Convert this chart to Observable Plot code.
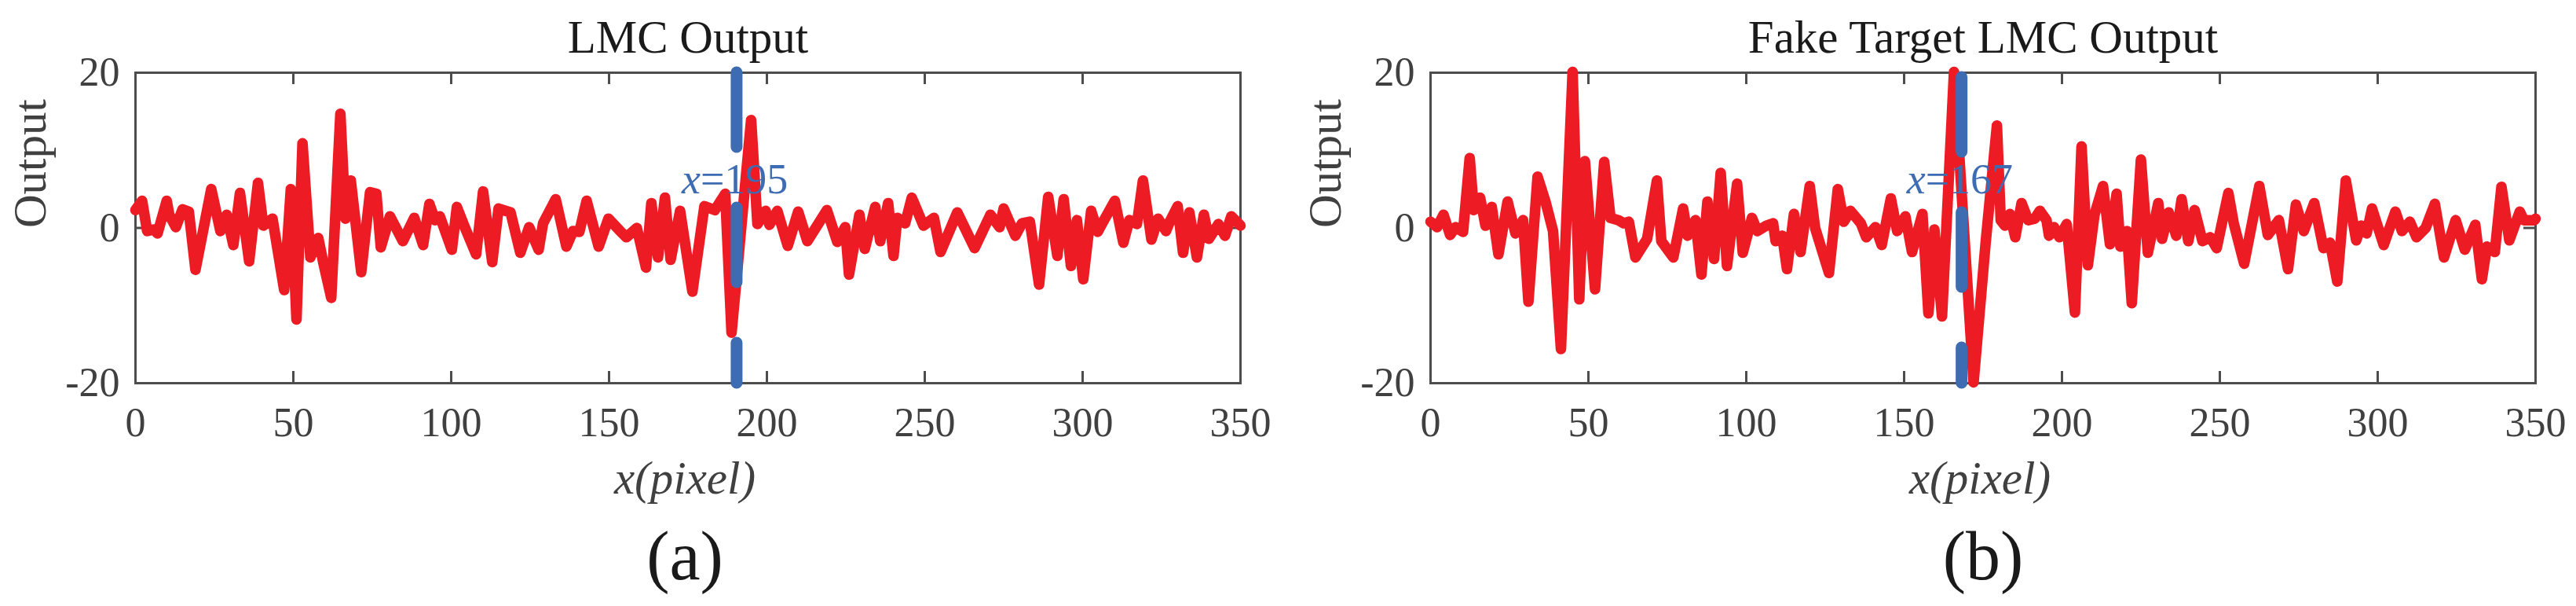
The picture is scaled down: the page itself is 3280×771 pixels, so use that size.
<!DOCTYPE html>
<html><head><meta charset="utf-8">
<script src="https://cdn.jsdelivr.net/npm/d3@7"></script>
<script src="https://cdn.jsdelivr.net/npm/@observablehq/plot@0.6"></script>
<style>
html,body{margin:0;padding:0;background:#fff;}
#wrap{display:flex;width:3280px;height:771px;overflow:hidden;}
#wrap svg{display:block;overflow:visible;}
</style></head><body><div id="wrap"></div>
<script>
// ---- data ----
const xTicks = [0, 50, 100, 150, 200, 250, 300, 350];
const yTicks = [-20, 0, 20];

// (a) LMC Output
const lmcX = [0,2.1,3.7,5.8,7.0,9.9,10.7,12.8,14.9,16.9,19.0,24.0,26.9,28.9,31.0,33.1,36.0,38.8,40.5,43.4,47.1,49.2,51.0,52.9,55.4,57.9,59.5,62.0,64.9,66.5,68.2,71.5,74.3,76.3,77.7,80.6,84.7,88.3,91.1,93.1,94.9,96.4,100.2,101.8,103.9,107.9,110.1,113.0,115.0,118.8,121.9,124.7,127.7,129.1,133.1,136.5,138.6,140.6,142.9,146.7,149.8,153.5,155.5,158.8,161.7,163.4,165.5,167.7,169.5,172.5,176.4,180.2,183.5,186.8,188.8,195.0,197.0,199.6,200.8,203.3,206.6,209.9,212.8,219.0,222.3,224.8,226.0,229.3,231.0,234.3,235.9,238.4,240.1,241.3,243.8,245.9,249.6,252.9,255.0,260.3,265.8,270.8,273.7,275.0,278.7,280.8,283.3,286.2,289.1,292.0,294.0,296.3,298.2,300.2,302.7,304.8,306.5,310.2,312.9,314.8,317.2,319.1,321.8,323.9,326.4,327.6,330.1,331.8,333.8,336.2,338.4,340.0,343.0,345.1,347.1,348.8,350];
const lmcY = [2.3,3.5,-0.4,-0.2,-0.7,3.5,1.7,0.1,2.4,2.1,-5.4,5.0,-0.4,1.7,-2.2,4.5,-4.3,5.8,0.3,1.2,-8.0,5.0,-11.8,10.9,-3.8,-1.3,-4.5,-9.0,14.7,1.2,6.1,-5.7,4.6,4.4,-2.5,1.5,-1.7,1.3,-2.2,3.1,1.0,1.5,-2.8,2.7,0.5,-3.4,4.7,-4.4,2.5,2.0,-3.2,0.1,-2.8,0.6,3.7,-2.4,-0.4,-0.5,3.5,-2.4,1.2,-0.4,-1.2,0.0,-5.1,3.2,-3.8,3.9,-4.1,2.2,-8.2,2.8,2.3,4.4,-13.5,13.9,0.5,2.2,0.4,2.2,-2.3,2.1,-1.7,2.3,-1.8,0.1,-6.0,1.7,-2.7,2.7,-1.7,3.2,-3.6,1.3,0.6,3.9,0.3,1.3,-3.1,2.0,-2.6,1.7,0.1,2.5,-1.0,0.6,0.8,-7.3,4.0,-3.6,3.7,-4.9,1.0,-6.6,2.2,-0.5,0.8,3.5,-1.9,1.0,0.5,6.1,-1.5,1.2,-0.4,0.8,2.8,-3.2,2.0,-3.8,1.7,-1.4,0.5,-1.0,1.5,0.8,0.3];

// (b) Fake Target LMC Output
const fakeX = [0,2.1,4.1,6.2,7.9,10.3,12.4,13.7,15.7,17.4,19.4,21.5,24.4,26.9,29.3,31.0,33.9,36.4,38.8,41.3,45.0,47.1,48.9,52.1,55.0,57.0,59.5,61.2,62.8,64.9,68.6,71.7,73.1,76.9,80.0,81.4,83.9,85.8,87.7,89.8,91.9,93.9,97.1,98.9,101.8,103.5,106.4,108.5,109.3,111.4,112.9,115.1,117.2,120.1,121.8,126.2,129.0,130.9,133.0,136.3,138.0,140.9,142.9,145.8,147.8,150.4,152.5,155.8,157.7,159.6,162.0,165.8,172.0,175.8,179.4,180.6,181.9,183.5,185.2,187.2,189.3,191.4,193.0,195.1,195.9,197.5,199.2,201.5,204.1,206.2,208.2,210.3,213.0,215.2,217.3,218.5,220.6,222.1,225.0,227.2,230.5,231.7,233.8,236.2,237.9,240.0,242.0,244.5,247.0,249.0,252.7,254.4,257.7,262.5,265.2,268.7,271.6,274.1,276.6,279.9,282.8,284.9,287.2,289.9,293.2,294.8,296.5,298.2,301.9,305.6,307.7,310.2,312.3,315.2,318.1,321.0,324.7,327.6,330.9,333.0,334.6,337.1,339.2,341.7,345.0,346.3,349.6,350];
const fakeY = [0.8,0.1,1.7,-0.9,0.1,-0.5,9.0,2.3,3.9,0.3,2.7,-3.4,3.4,-0.7,1.0,-9.5,6.6,3.4,-0.4,-15.6,20.1,-9.2,8.6,-7.9,8.5,1.3,1.0,0.6,0.8,-3.8,-1.4,6.1,-1.7,-3.8,2.5,-1.0,1.0,-6.0,3.4,-4.0,7.1,-4.9,5.7,-3.2,1.3,-0.4,0.3,0.6,-1.7,-1.0,-5.3,1.8,-3.1,5.4,0.0,-5.8,5.0,0.8,2.2,0.6,-1.2,0.1,-2.2,3.8,-0.4,1.5,-3.1,1.8,-11.0,-0.2,-11.4,20.1,-19.9,-2.0,13.2,1.0,0.3,1.8,-1.2,3.2,1.0,1.2,2.2,1.0,-1.0,0.1,-1.2,0.5,-10.9,10.5,-4.8,1.7,5.4,-2.1,4.4,-2.4,-0.4,-9.7,8.8,-3.2,3.2,-1.4,2.0,-1.0,3.7,-1.7,2.3,-1.7,-1.2,-2.6,4.5,0.6,-4.6,5.4,-0.9,1.0,-5.3,3.0,-0.4,3.2,-2.6,-1.9,-6.9,6.1,-1.6,0.3,-0.7,2.5,-2.2,2.1,-0.4,0.8,-1.2,0.0,3.1,-3.8,1.0,-2.8,0.4,-6.6,-2.4,-3.1,5.3,-1.6,2.1,1.0,1.0,1.2];

const titles = ["LMC Output", "Fake Target LMC Output"];
const tags = ["(a)", "(b)"];
const markerPos = [190.4, 168.2];      // where the dashed line is drawn
const markerText = ["195", "167"];     // what its label says
const xLabel = "x(pixel)";
const yLabel = "Output";

// ---- styling ----
const RED = "#ed1c24", BLUE = "#3d6cb2", AXIS = "#4d4d4d", LABEL = "#404040", DARK = "#1a1a1a";
const FONT = "'Liberation Serif', 'Times New Roman', serif";

const layout = [
  {width: 1640, marginLeft: 172, marginRight: 61, dashOffset: 0, tagDx: -4},
  {width: 1640, marginLeft: 181, marginRight: 52, dashOffset: -6, tagDx: 0}
];
const H = 771, MT = 92, MB = 284;

function panel(i, xs, ys) {
  const L = layout[i];
  const fw = L.width - L.marginLeft - L.marginRight;
  const fh = H - MT - MB;
  const data = xs.map((x, k) => ({x, y: ys[k]}));
  const mk = markerPos[i];
  return Plot.plot({
    width: L.width, height: H,
    marginLeft: L.marginLeft, marginRight: L.marginRight, marginTop: MT, marginBottom: MB,
    x: {domain: [0, 350], label: null},
    y: {domain: [-20, 20], label: null},
    style: {fontFamily: FONT, background: "white", overflow: "visible"},
    marks: [
      Plot.axisX(xTicks, {anchor: "bottom", tickSize: 0, tickPadding: 31, fontSize: 52, fill: LABEL, tickFormat: d => String(d), label: null}),
      Plot.axisY(yTicks, {anchor: "left", tickSize: 0, tickPadding: 20, fontSize: 52, fill: LABEL, tickFormat: d => String(d), label: null}),
      Plot.tickX(xTicks, {x: d => d, stroke: AXIS, strokeWidth: 3, insetTop: fh - 15}),
      Plot.tickX(xTicks, {x: d => d, stroke: AXIS, strokeWidth: 3, insetBottom: fh - 15}),
      Plot.tickY(yTicks, {y: d => d, stroke: AXIS, strokeWidth: 3, insetRight: fw - 15}),
      Plot.tickY(yTicks, {y: d => d, stroke: AXIS, strokeWidth: 3, insetLeft: fw - 15}),
      Plot.frame({stroke: AXIS, strokeWidth: 3}),
      Plot.line(data, {x: "x", y: "y", stroke: RED, strokeWidth: 13.5, strokeLinejoin: "round", strokeLinecap: "round"}),
      Plot.ruleX([mk], {x: d => d, y1: 20, y2: -20, stroke: BLUE, strokeWidth: 15, strokeDasharray: "95,77", strokeDashoffset: L.dashOffset, strokeLinecap: "round"}),
      Plot.text([mk], {x: d => d, y: 6.2, text: () => "x", fontStyle: "italic", textAnchor: "end", dx: -46, fontSize: 54, fill: BLUE}),
      Plot.text([mk], {x: d => d, y: 6.2, text: () => "=" + markerText[i], textAnchor: "start", dx: -46, fontSize: 54, fill: BLUE}),
      Plot.text([titles[i]], {text: d => d, frameAnchor: "top", lineAnchor: "bottom", dy: -26, fontSize: 59, fill: DARK}),
      Plot.text([yLabel], {text: d => d, frameAnchor: "left", lineAnchor: "bottom", rotate: -90, dx: -115, fontSize: 59, fill: LABEL}),
      Plot.text([xLabel], {text: d => d, frameAnchor: "bottom", lineAnchor: "bottom", dy: 140, dx: -4, fontStyle: "italic", fontSize: 59, fill: LABEL}),
      Plot.text([tags[i]], {text: d => d, frameAnchor: "bottom", lineAnchor: "bottom", dy: 249.5, dx: L.tagDx, fontSize: 88, fill: DARK})
    ]
  });
}

const wrap = document.getElementById("wrap");
wrap.appendChild(panel(0, lmcX, lmcY));
wrap.appendChild(panel(1, fakeX, fakeY));
</script>
</body></html>
